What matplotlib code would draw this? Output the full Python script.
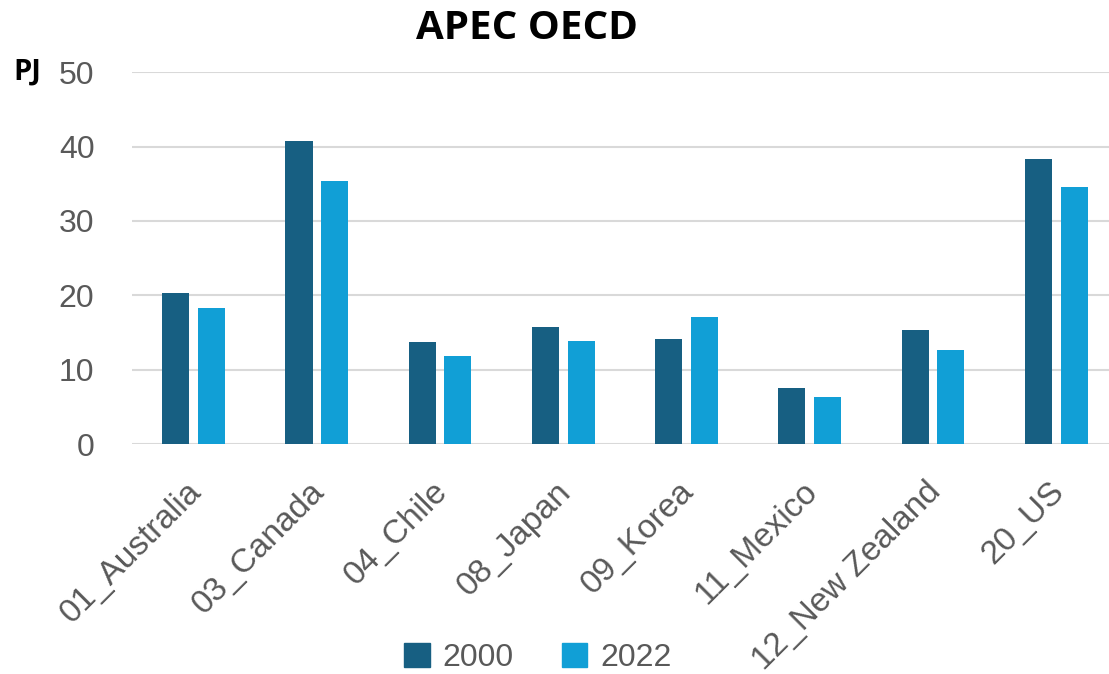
#!/usr/bin/env python3

"""
APEC OECD bar chart, 2000 vs 2022
"""

import numpy as np
import matplotlib.pyplot as plt
from matplotlib.patches import Patch
from matplotlib.transforms import ScaledTranslation

economies = ['01_Australia', '03_Canada', '04_Chile', '08_Japan',
             '09_Korea', '11_Mexico', '12_New Zealand', '20_US']
vals_2000 = [20.3, 40.8, 13.7, 15.7, 14.2, 7.5, 15.3, 38.3]
vals_2022 = [18.3, 35.4, 11.9, 13.8, 17.1, 6.3, 12.6, 34.6]
yticks = [0, 10, 20, 30, 40, 50]

dark = '#175f82'
light = '#119fd6'
grey = '#595959'


def main():
    plt.rcParams['font.family'] = ['Liberation Sans', 'DejaVu Sans']
    fig = plt.figure(figsize=(11.09, 6.74), dpi=100)
    # plot area runs a little past the right edge, like the original
    ax = fig.add_axes([0.119, 0.341, 0.889, 0.552])

    x = np.arange(len(economies))
    w = 0.22
    ax.bar(x - 0.145, vals_2000, width=w, color=dark, zorder=3)
    ax.bar(x + 0.145, vals_2022, width=w, color=light, zorder=3)

    ax.set_xlim(-0.5, len(economies) - 0.5)
    ax.set_ylim(0, 50)
    ax.set_yticks(yticks)
    ax.yaxis.grid(True, color='#d9d9d9', linewidth=1.5, zorder=0)
    for s in ax.spines.values():
        s.set_visible(False)
    ax.tick_params(length=0, labelsize=23, colors=grey)
    ax.tick_params(axis='y', pad=27)
    ax.set_xticks(x)
    ax.set_xticklabels(economies, rotation=45, ha='right',
                       rotation_mode='anchor', fontsize=24)
    ax.tick_params(axis='x', pad=23)
    # nudge the slanted labels a little to the left
    shift = ScaledTranslation(-8 / 100, 0, fig.dpi_scale_trans)
    for lab in ax.get_xticklabels():
        lab.set_transform(lab.get_transform() + shift)

    fig.text(0.475, 0.958, 'APEC OECD', ha='center', va='center',
             fontsize=29, fontweight='bold', family=['Open Sans', 'DejaVu Sans'])
    fig.text(0.012, 0.893, 'PJ', ha='left', va='center',
             fontsize=21, fontweight='bold', family=['Open Sans', 'DejaVu Sans'])

    handles = [Patch(color=dark, label='2000'), Patch(color=light, label='2022')]
    fig.legend(handles=handles, loc='center', bbox_to_anchor=(0.485, 0.024),
               ncol=2, frameon=False, fontsize=23, labelcolor=grey,
               handlelength=0.8, handleheight=0.8, handletextpad=0.4,
               columnspacing=1.5)

    fig.savefig('out.png', dpi=100)


if __name__ == '__main__':
    main()
